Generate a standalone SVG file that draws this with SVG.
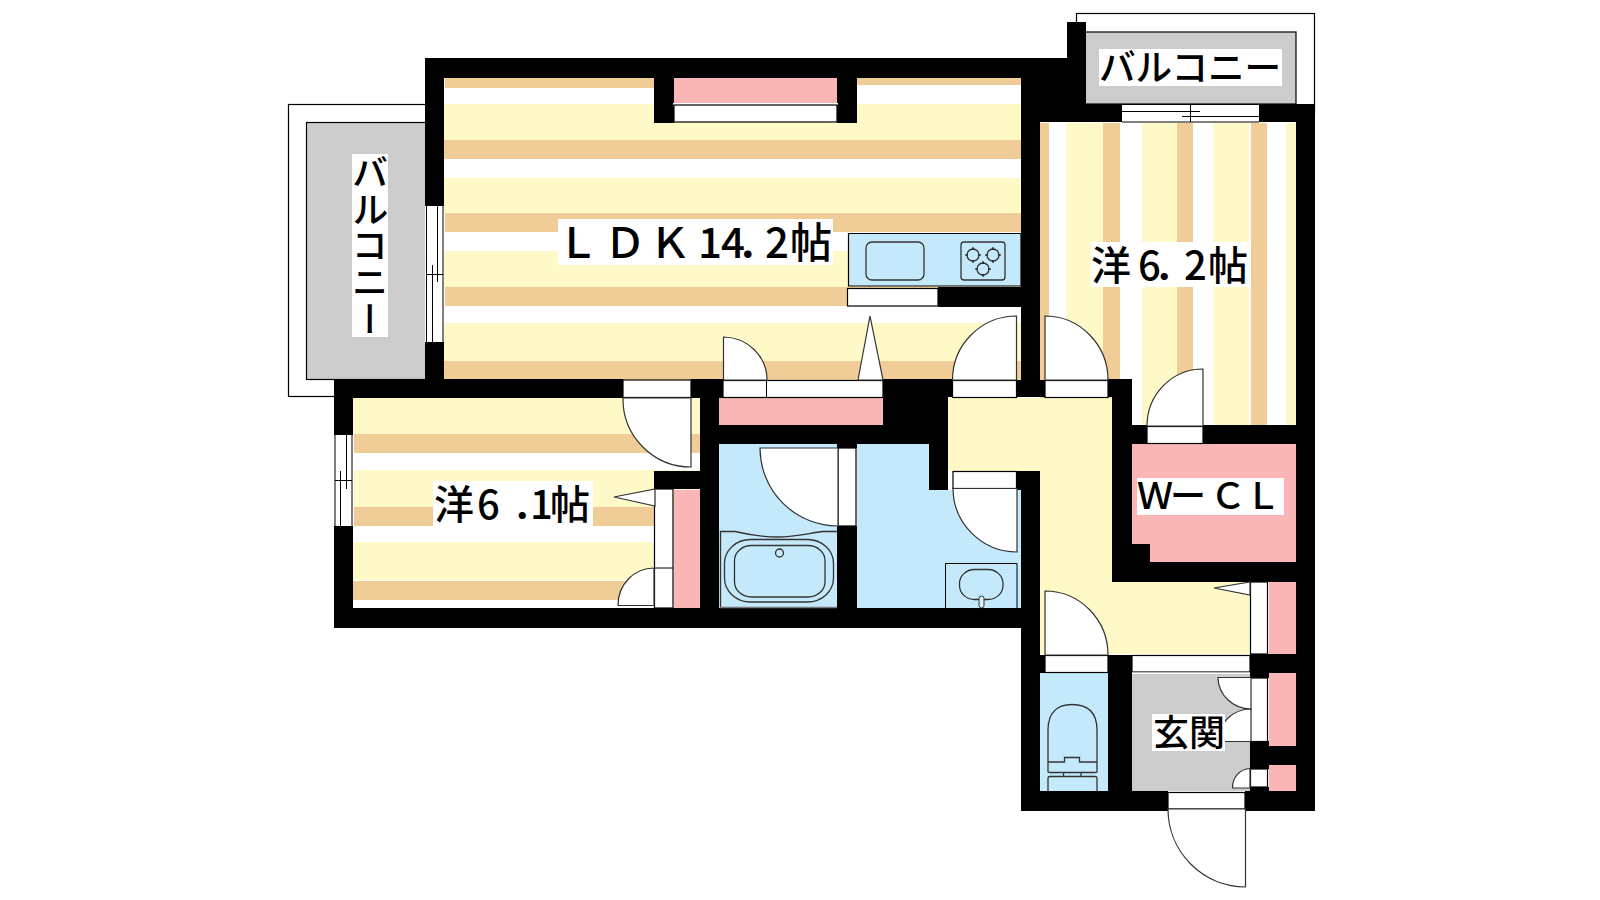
<svg xmlns="http://www.w3.org/2000/svg" width="1600" height="900" viewBox="0 0 1600 900">
<style>
.k{fill:#000}.c{fill:#fef9c7}.t{fill:#f0cd97}.p{fill:#fab5b7}.b{fill:#c4e9fa}.g{fill:#ccc}.w{fill:#fff}
.o{fill:#fff;stroke:#000;stroke-width:1.2}
.d{fill:#fff;stroke:#333;stroke-width:1.2}
.l{fill:none;stroke:#000;stroke-width:1}
.f{fill:none;stroke:#333;stroke-width:1.3}
text{font-family:"Noto Sans CJK JP","Noto Sans",sans-serif;fill:#000;font-weight:500}
</style>
<defs>
<g id="burner"><circle r="6" class="f"/><path d="M-8,0H-5M5,0H8M0,-8V-5M0,5V8" class="l"/></g>
</defs>
<rect width="1600" height="900" fill="#fff"/>

<g id="balcony-west">
<rect x="288.500" y="104.500" width="140" height="292" fill="#fff" stroke="#000" stroke-width="1.200"/>
<rect x="306.500" y="122.500" width="120" height="257" class="g" stroke="#000" stroke-width="1.200"/>
</g>
<g id="balcony-north">
<rect x="1076.500" y="13.500" width="238" height="100" fill="#fff" stroke="#000" stroke-width="1.200"/>
<rect x="1085" y="32" width="211" height="72" class="g" stroke="#000" stroke-width="1.200"/>
</g>

<g id="ldk-floor">
<rect x="444" y="78" width="577" height="301" class="w"/>
<rect x="445" y="78" width="209" height="10" class="t"/>
<rect x="857" y="78" width="164" height="7" class="t"/>
<rect x="444" y="104" width="577" height="36" class="c"/>
<rect x="444" y="140" width="577" height="19" class="t"/>
<rect x="444" y="178" width="577" height="35" class="c"/>
<rect x="445" y="213" width="576" height="19" class="t"/>
<rect x="444" y="251" width="577" height="36" class="c"/>
<rect x="445" y="287" width="576" height="19" class="t"/>
<rect x="444" y="323" width="577" height="38" class="c"/>
<rect x="444" y="361" width="577" height="19" class="t"/>
</g>

<g id="room-west-floor">
<rect x="353" y="398" width="347" height="210" class="w"/>
<rect x="353" y="398" width="347" height="36" class="c"/>
<rect x="354" y="434" width="346" height="19" class="t"/>
<rect x="354" y="470" width="346" height="37" class="c"/>
<rect x="354" y="507" width="300" height="19" class="t"/>
<rect x="353" y="542" width="301" height="38" class="c"/>
<rect x="353" y="581" width="301" height="19" class="t"/>
</g>

<g id="room-east-floor">
<rect x="1040" y="122" width="256" height="303" class="w"/>
<rect x="1040" y="123" width="9" height="302" class="t"/>
<rect x="1066" y="123" width="37" height="302" class="c"/>
<rect x="1103" y="123" width="17" height="302" class="t"/>
<rect x="1142" y="123" width="35" height="302" class="c"/>
<rect x="1177" y="123" width="16" height="302" class="t"/>
<rect x="1213" y="123" width="36" height="302" class="c"/>
<rect x="1251" y="123" width="16" height="302" class="t"/>
<rect x="1286" y="123" width="10" height="302" class="c"/>
</g>

<g id="hall"><path d="M948,398H1112V582H1250V654H1040V471H948Z" class="c"/></g>
<g id="wcl-floor"><path d="M1132,444H1296V562H1150V544H1132Z" class="p"/></g>
<g id="wet-floors">
<rect x="719" y="444" width="118" height="164" class="b"/>
<path d="M857,444H929V490H1021V608H857Z" class="b"/>
<rect x="1040" y="673" width="72" height="118" class="b"/>
</g>
<g id="genkan-floor"><rect x="1132" y="674" width="118" height="117" class="g"/></g>
<g id="closets">
<rect x="674" y="78" width="163" height="25" class="p"/>
<rect x="719" y="398" width="164" height="27" class="p"/>
<rect x="674" y="490" width="26" height="118" class="p"/>
<rect x="1269" y="582" width="27" height="72" class="p"/>
<rect x="1269" y="673" width="27" height="73" class="p"/>
<rect x="1269" y="765" width="27" height="26" class="p"/>
</g>

<g id="walls" class="k">
<path d="M425,58H1067V22H1086V104H1122V122H1040V380H1045V397H1016V380H1021V78H857V123H837V78H674V123H654V78H444V379H425Z"/>
<rect x="334" y="379" width="289" height="19"/>
<rect x="334" y="379" width="19" height="56"/>
<rect x="334" y="526" width="19" height="102"/>
<rect x="334" y="608" width="706" height="20"/>
<rect x="691" y="379" width="32" height="19"/>
<rect x="700" y="379" width="19" height="249"/>
<rect x="654" y="471" width="46" height="18"/>
<rect x="719" y="425" width="229" height="19"/>
<path d="M883,379H952V397H948V490H929V444H883Z"/>
<rect x="837" y="444" width="20" height="4"/>
<rect x="837" y="526" width="20" height="82"/>
<rect x="1016" y="471" width="24" height="19"/>
<rect x="1021" y="471" width="19" height="340"/>
<rect x="1021" y="791" width="147" height="20"/>
<rect x="1245" y="791" width="70" height="20"/>
<rect x="1296" y="104" width="19" height="707"/>
<rect x="1259" y="104" width="56" height="18"/>
<rect x="1108" y="379" width="24" height="18"/>
<rect x="1112" y="379" width="20" height="203"/>
<rect x="1132" y="425" width="15" height="19"/>
<rect x="1203" y="425" width="93" height="19"/>
<rect x="1112" y="562" width="184" height="20"/>
<rect x="1132" y="544" width="18" height="18"/>
<rect x="1250" y="654" width="46" height="19"/>
<rect x="1250" y="654" width="19" height="24"/>
<rect x="1250" y="746" width="46" height="19"/>
<rect x="1250" y="741" width="19" height="28"/>
<rect x="1250" y="787" width="19" height="4"/>
<rect x="1040" y="655" width="5" height="18"/>
<rect x="1108" y="655" width="24" height="136"/>
<rect x="938" y="287" width="83" height="20"/>
</g>

<g id="kitchen">
<path d="M848.500,286V233.500H1021V286Z" class="b" stroke="#000" stroke-width="1.200"/>
<rect x="866" y="242" width="58" height="38" rx="6" class="f"/>
<rect x="961" y="242" width="44" height="38" rx="3" class="f"/>
<use href="#burner" x="973" y="255"/>
<use href="#burner" x="993" y="255"/>
<use href="#burner" x="983" y="269"/>
<rect x="847.500" y="288.500" width="90.500" height="17.500" class="o"/>
</g>

<g id="alcove">
<rect x="673" y="103" width="165" height="2" class="w"/>
<rect x="674" y="105" width="163" height="17" class="o"/>
</g>

<g id="windows">
<g id="window-ldk">
<rect x="425" y="206" width="19" height="136" class="w"/>
<path d="M426.500,206V342M437.500,206V282M432.500,265V342M443,206V342M426,274.500H443" class="l"/>
</g>
<g id="window-west">
<rect x="334" y="435" width="19" height="91" class="w"/>
<path d="M335,435V526M346.500,435V489M340.500,471V526M352,435V526M335,480.500H352" class="l"/>
</g>
<g id="window-east">
<rect x="1122" y="104" width="137" height="18" class="w"/>
<path d="M1122,104.500H1259M1122,122H1259M1122,111.500H1200M1182,116.500H1259M1190.500,105V122" class="l"/>
</g>
</g>

<g id="doors">
<g id="door-ldk-west">
<rect x="623" y="380" width="68" height="17.500" class="o"/>
<path d="M623,398H691V467A68,68 0 0 1 623,398Z" class="d"/>
</g>
<g id="door-ldk-closet">
<rect x="723" y="380.500" width="160" height="17" class="o"/>
<path d="M766.500,380.500V397.500" class="l"/>
<path d="M723.500,380V337A44,43 0 0 1 767,380Z" class="d"/>
<path d="M858,380L870,316L883,380Z" class="d"/>
</g>
<g id="door-ldk-hall">
<rect x="952.500" y="380.500" width="64" height="17" class="o"/>
<path d="M1016.500,380V316A64,64 0 0 0 952.500,380Z" class="d"/>
</g>
<g id="door-east">
<rect x="1045" y="380.500" width="63" height="17" class="o"/>
<path d="M1045,380V316A63,64 0 0 1 1108,380Z" class="d"/>
</g>
<g id="door-wcl">
<rect x="1147" y="426.500" width="56" height="17" class="o"/>
<path d="M1203,426V369A56,57 0 0 0 1147,426Z" class="d"/>
</g>
<g id="door-bath">
<rect x="838" y="448" width="18" height="78" class="o"/>
<path d="M838,448H760A78,78 0 0 0 838,526Z" class="d"/>
</g>
<g id="door-wash">
<rect x="953" y="471.500" width="63.500" height="17" class="o"/>
<path d="M1017,488.500V552A64,64 0 0 1 953,488.500Z" class="d"/>
</g>
<g id="door-west-closet">
<rect x="654.500" y="489" width="18.500" height="119" class="o"/>
<path d="M654.500,568H673" class="l"/>
<path d="M654,568V605.500H618A36,37 0 0 1 654,568Z" class="d"/>
<path d="M614,497L655,489V506Z" class="d"/>
</g>
<g id="door-hall-closet">
<rect x="1250.500" y="582" width="17" height="72" class="o"/>
<path d="M1214,588L1250,582V595Z" class="d"/>
</g>
<g id="door-toilet">
<rect x="1045" y="655.500" width="63" height="17" class="o"/>
<path d="M1045,655V591A63,64 0 0 1 1108,655Z" class="d"/>
</g>
<g id="step">
<rect x="1132" y="655.500" width="118" height="16.500" class="o"/>
<rect x="1132" y="672.500" width="118" height="1.500" class="w"/>
</g>
<g id="door-genkan-closet">
<rect x="1250.500" y="678" width="17" height="63.500" class="o"/>
<path d="M1218,677.500H1251V709A33,32 0 0 1 1218,677.500Z" class="d"/>
<path d="M1251,709V741.500H1218A33,32 0 0 1 1251,709Z" class="d"/>
</g>
<g id="door-small-closet">
<rect x="1250.500" y="769" width="17" height="18" class="o"/>
<path d="M1250,768.500V788H1232.500A18,19 0 0 1 1250,768.500Z" class="d"/>
</g>
<g id="door-entrance">
<rect x="1168" y="792.500" width="77" height="16.500" class="o"/>
<path d="M1245.500,809V887A78,78 0 0 1 1168,809Z" class="d"/>
</g>
</g>

<g id="fixtures">
<g id="bath">
<path d="M720.500,607V531.500H735C750,535 765,537 778,537C795,537 810,533 823,531.500H837" class="f"/>
<path d="M720,607.500H837" stroke="#777" stroke-width="1.500" fill="none"/>
<rect x="724.500" y="539.500" width="109" height="62.500" rx="26" ry="24" class="f"/>
<rect x="734.500" y="545.500" width="90.500" height="51.500" rx="17" ry="15" class="f"/>
<circle cx="779.500" cy="553" r="4" class="f"/>
</g>
<g id="washbasin">
<path d="M945.500,608V563.500H1017V608" class="l"/>
<rect x="959.500" y="569.500" width="43.500" height="30" rx="15" ry="14" class="f"/>
<rect x="979" y="596" width="5" height="12" rx="2.500" fill="#d8f0fb" stroke="#333" stroke-width="1"/>
</g>
<g id="toilet">
<path d="M1048,772V730C1048,712 1058,704.500 1072,704.500C1087,704.500 1097,712 1097,730V772Q1097,772.500 1095,772.500H1050Q1048,772.500 1048,772ZM1048,762H1064.500V757.500H1079.500V762H1097" class="f"/>
<path d="M1063.500,772.500V776.500H1081V772.500M1048,791V778Q1048,776.500 1050,776.500H1095Q1097,776.500 1097,778V791" class="f"/>
</g>
</g>

<g id="labels">
<g id="label-ldk">
<rect x="558" y="219" width="275" height="46" class="w"/>
<text y="258" font-size="42" x="557 604 649 698 721 737 765 790">ＬＤＫ14．2帖</text>
</g>
<g id="label-east">
<rect x="1091" y="242" width="158" height="45" class="w"/>
<text y="280" font-size="40" x="1091 1138 1154 1184 1208">洋6．2帖</text>
</g>
<g id="label-west">
<rect x="433" y="481" width="160" height="45" class="w"/>
<text y="519" font-size="40" x="434 477 512 530 550">洋6．1帖</text>
</g>
<g id="label-wcl">
<rect x="1137" y="478" width="147" height="37" class="w"/>
<text y="509" font-size="36" x="1137 1170 1210 1245">ＷーＣＬ</text>
</g>
<g id="label-genkan">
<rect x="1152" y="714" width="73" height="37" class="w"/>
<text y="746" font-size="36" x="1153 1189">玄関</text>
</g>
<g id="label-balcony-north">
<rect x="1099" y="49" width="183" height="37" class="w"/>
<text x="1099" y="81" font-size="36.600">バルコニー</text>
</g>
<g id="label-balcony-west">
<rect x="352" y="154" width="36" height="183" class="w"/>
<text x="370" y="154" font-size="36.600" style="writing-mode:vertical-rl">バルコニー</text>
</g>
</g>
</svg>
